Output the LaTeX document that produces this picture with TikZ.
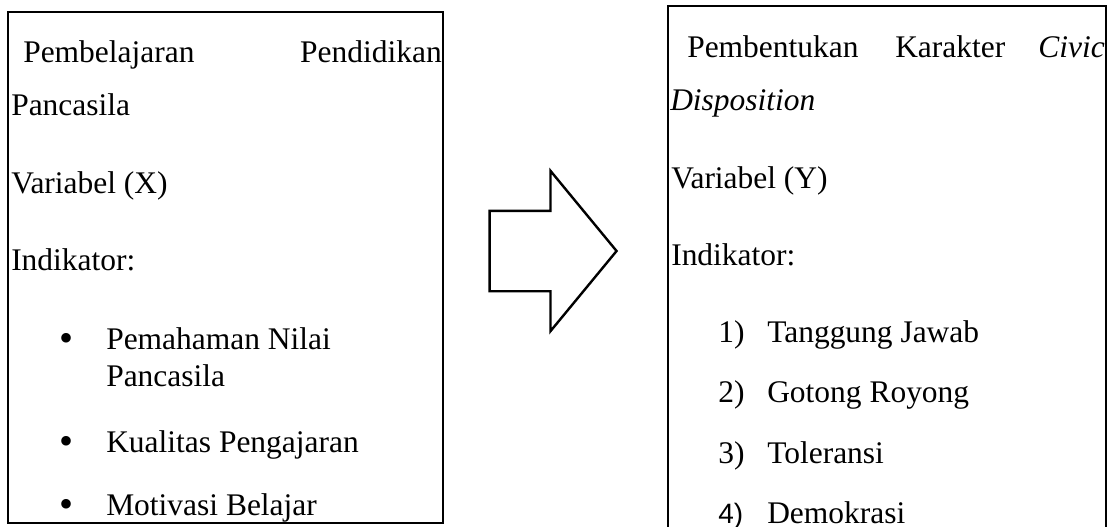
\documentclass[tikz,border=0pt]{standalone}
\usepackage{fontspec}
\setmainfont{Liberation Serif}
\newfontfamily\numfont{Liberation Sans}
\usetikzlibrary{shapes.arrows}

\begin{document}
\begin{tikzpicture}[x=0.75pt,y=-0.75pt]
        \tikzstyle{every node}=[font=\fontsize{23.6}{28}\selectfont, inner sep=0pt]
        \tikzstyle{box}=[draw, rectangle, line width=0.9pt]
        \tikzstyle{txt}=[anchor=base west]
        \tikzstyle{txtr}=[anchor=base east]
        \tikzstyle{dot}=[anchor=base, font=\fontsize{30}{30}\selectfont]
        \useasboundingbox (0,0) rectangle (1115,526);
        \clip (0,0) rectangle (1115,526);
        % the two boxes and the arrow between them
        \node[box, minimum width=326.25pt, minimum height=383.25pt] (varx) at (225.5,267.5) {};
        \node[box, minimum width=328.5pt, minimum height=415.5pt] (vary) at (887,283) {};
        \node[draw, single arrow, single arrow head extend=30pt, single arrow tip angle=101, inner xsep=0pt, inner ysep=29.25pt, minimum height=95.25pt, line width=1.8pt, line join=miter] (arrow) at (536.5,251) {};
        % variabel X
        \node[txt] (x1a) at (23,62) {Pembelajaran};
        \node[txtr] (x1b) at (442,62) {Pendidikan};
        \node[txt] (x2) at (11,115) {Pancasila};
        \node[txt] (x3) at (11,193) {Variabel (X)};
        \node[txt] (x4) at (11,270) {Indikator:};
        \node[dot] (xb1) at (67,351) {•};
        \node[txt] (x5) at (106,349) {Pemahaman Nilai};
        \node[txt] (x6) at (106,386) {Pancasila};
        \node[dot] (xb2) at (67,454) {•};
        \node[txt] (x7) at (106,452) {Kualitas Pengajaran};
        \node[dot] (xb3) at (67,517) {•};
        \node[txt] (x8) at (106,515) {Motivasi Belajar};
        % variabel Y
        \node[txt] (y1a) at (687,57) {Pembentukan};
        \node[txt] (y1b) at (895,57) {Karakter};
        \node[txtr] (y1c) at (1105,57) {\textit{Civic}};
        \node[txt] (y2) at (670,110) {\textit{Disposition}};
        \node[txt] (y3) at (671,188) {Variabel (Y)};
        \node[txt] (y4) at (671,265) {Indikator:};
        \node[txt] (yn1) at (718,342) {1)};
        \node[txt] (y5) at (767,342) {Tanggung Jawab};
        \node[txt] (yn2) at (718,402) {2)};
        \node[txt] (y6) at (767,402) {Gotong Royong};
        \node[txt] (yn3) at (718,463) {3)};
        \node[txt] (y7) at (767,463) {Toleransi};
        \node[txt, font=\numfont\fontsize{21}{25}\selectfont] (yn4) at (718,523) {4)};
        \node[txt] (y8) at (767,523) {Demokrasi};
    \end{tikzpicture}
\end{document}
